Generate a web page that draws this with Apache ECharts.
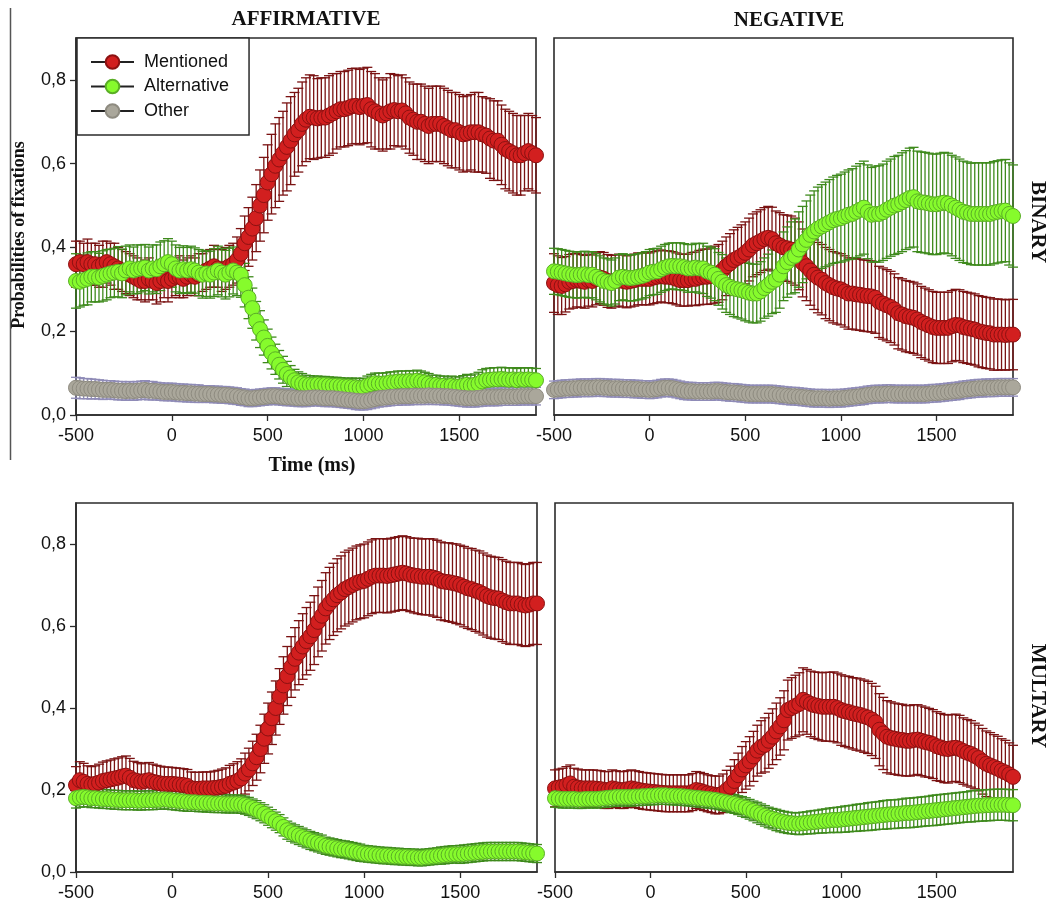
<!DOCTYPE html>
<html><head><meta charset="utf-8">
<script src="https://cdn.jsdelivr.net/npm/echarts@6/dist/echarts.min.js"></script>
<style>html,body{margin:0;padding:0;background:#fff}#c{width:1051px;height:912px}</style>
</head><body><div id="c"></div>
<script>
// ---- sampling grid (ms) ----
const TIME_START = -500, TIME_STEP = 20, N_POINTS = 121;
const SERIES_NAMES = ['Mentioned', 'Alternative', 'Other'];
const X_TICKS = [-500, 0, 500, 1000, 1500];
const Y_TICKS = [0, 0.2, 0.4, 0.6, 0.8];
const COL_TITLES = ['AFFIRMATIVE', 'NEGATIVE'];
const ROW_TITLES = ['BINARY', 'MULTARY'];
const Y_TITLE = 'Probabilities of fixations';
const X_TITLE = 'Time (ms)';

// ---- BINARY / AFFIRMATIVE ----
const binAffMentioned = [
0.36,0.365,0.36,0.365,0.36,
0.36,0.355,0.36,0.365,0.36,
0.355,0.35,0.345,0.34,0.335,
0.33,0.325,0.32,0.32,0.325,
0.32,0.315,0.32,0.325,0.32,
0.325,0.33,0.33,0.325,0.33,
0.335,0.33,0.335,0.34,0.345,
0.35,0.355,0.35,0.345,0.35,
0.355,0.36,0.37,0.385,0.41,
0.425,0.445,0.47,0.5,0.525,
0.555,0.575,0.595,0.61,0.625,
0.64,0.655,0.67,0.68,0.695,
0.705,0.712,0.71,0.708,0.71,
0.71,0.715,0.72,0.725,0.73,
0.73,0.733,0.737,0.738,0.735,
0.738,0.74,0.73,0.725,0.72,
0.715,0.72,0.725,0.728,0.725,
0.727,0.72,0.71,0.705,0.7,
0.7,0.695,0.69,0.695,0.695,
0.695,0.69,0.685,0.68,0.68,
0.675,0.67,0.672,0.675,0.675,
0.675,0.67,0.667,0.66,0.655,
0.655,0.645,0.635,0.63,0.625,
0.62,0.62,0.625,0.63,0.625,
0.62];
const binAffMentionedSE = [
0.055,0.05,0.05,0.055,0.05,
0.05,0.05,0.055,0.05,0.05,
0.055,0.05,0.05,0.05,0.05,
0.05,0.05,0.045,0.05,0.05,
0.045,0.05,0.05,0.045,0.05,
0.045,0.045,0.05,0.045,0.045,
0.045,0.045,0.05,0.045,0.045,
0.045,0.05,0.045,0.05,0.05,
0.05,0.05,0.055,0.06,0.065,
0.07,0.075,0.08,0.085,0.09,
0.09,0.095,0.1,0.1,0.1,
0.105,0.105,0.1,0.1,0.1,
0.1,0.1,0.1,0.095,0.095,
0.095,0.095,0.095,0.09,0.09,
0.09,0.09,0.09,0.09,0.09,
0.09,0.09,0.09,0.09,0.085,
0.085,0.085,0.09,0.085,0.085,
0.085,0.085,0.085,0.085,0.09,
0.09,0.09,0.09,0.09,0.09,
0.09,0.09,0.09,0.09,0.09,
0.09,0.09,0.09,0.09,0.095,
0.095,0.09,0.09,0.095,0.095,
0.095,0.095,0.095,0.095,0.095,
0.095,0.095,0.09,0.09,0.09,
0.09];
const binAffAlternative = [
0.32,0.318,0.322,0.325,0.33,
0.33,0.328,0.332,0.335,0.338,
0.34,0.342,0.338,0.345,0.35,
0.345,0.348,0.35,0.352,0.345,
0.35,0.348,0.355,0.36,0.365,
0.36,0.35,0.345,0.348,0.345,
0.348,0.345,0.34,0.335,0.338,
0.335,0.34,0.345,0.34,0.335,
0.34,0.345,0.34,0.335,0.31,
0.28,0.255,0.225,0.205,0.185,
0.165,0.148,0.133,0.12,0.108,
0.098,0.09,0.083,0.078,0.075,
0.073,0.072,0.072,0.073,0.072,
0.072,0.071,0.07,0.07,0.069,
0.068,0.068,0.067,0.066,0.065,
0.066,0.07,0.073,0.076,0.075,
0.075,0.076,0.078,0.078,0.08,
0.08,0.08,0.081,0.08,0.082,
0.08,0.078,0.075,0.072,0.072,
0.07,0.07,0.068,0.07,0.068,
0.068,0.07,0.072,0.07,0.072,
0.075,0.08,0.083,0.084,0.085,
0.085,0.086,0.085,0.084,0.085,
0.083,0.085,0.084,0.085,0.084,
0.083];
const binAffAlternativeSE = [
0.065,0.06,0.06,0.062,0.06,
0.06,0.058,0.06,0.06,0.058,
0.058,0.06,0.058,0.058,0.056,
0.056,0.058,0.056,0.055,0.056,
0.056,0.058,0.058,0.056,0.056,
0.055,0.056,0.055,0.056,0.055,
0.055,0.054,0.055,0.056,0.055,
0.056,0.057,0.058,0.058,0.058,
0.058,0.056,0.055,0.054,0.052,
0.05,0.048,0.046,0.044,0.042,
0.04,0.038,0.036,0.034,0.032,
0.03,0.028,0.026,0.025,0.024,
0.022,0.022,0.021,0.02,0.02,
0.02,0.02,0.02,0.02,0.02,
0.02,0.02,0.021,0.022,0.022,
0.022,0.023,0.024,0.024,0.025,
0.025,0.025,0.025,0.025,0.025,
0.025,0.025,0.025,0.025,0.025,
0.025,0.024,0.024,0.023,0.023,
0.023,0.023,0.023,0.023,0.023,
0.023,0.024,0.025,0.025,0.026,
0.027,0.028,0.028,0.028,0.028,
0.028,0.028,0.028,0.028,0.028,
0.028,0.028,0.028,0.028,0.028,
0.028];
const binAffOther = [
0.065,0.064,0.063,0.063,0.062,
0.062,0.061,0.06,0.06,0.06,
0.059,0.058,0.058,0.057,0.058,
0.057,0.058,0.059,0.06,0.058,
0.058,0.057,0.056,0.055,0.055,
0.055,0.054,0.053,0.053,0.052,
0.052,0.051,0.051,0.05,0.05,
0.05,0.049,0.049,0.048,0.048,
0.047,0.046,0.045,0.043,0.042,
0.04,0.04,0.041,0.042,0.043,
0.044,0.045,0.045,0.044,0.043,
0.042,0.042,0.041,0.04,0.04,
0.04,0.041,0.042,0.042,0.041,
0.04,0.04,0.04,0.039,0.038,
0.037,0.036,0.035,0.034,0.033,
0.033,0.034,0.036,0.038,0.04,
0.041,0.042,0.043,0.044,0.044,
0.045,0.045,0.045,0.046,0.046,
0.046,0.046,0.047,0.046,0.046,
0.046,0.045,0.045,0.044,0.043,
0.042,0.041,0.04,0.04,0.04,
0.041,0.042,0.043,0.043,0.043,
0.043,0.044,0.044,0.044,0.044,
0.044,0.045,0.045,0.045,0.045,
0.045];
const binAffOtherSE = [
0.025,0.025,0.024,0.024,0.024,
0.023,0.023,0.023,0.022,0.022,
0.022,0.022,0.022,0.022,0.022,
0.022,0.022,0.022,0.022,0.022,
0.022,0.021,0.021,0.021,0.021,
0.021,0.021,0.021,0.021,0.021,
0.021,0.021,0.021,0.02,0.02,
0.02,0.02,0.02,0.02,0.02,
0.02,0.02,0.02,0.02,0.02,
0.02,0.02,0.02,0.02,0.02,
0.02,0.02,0.02,0.02,0.02,
0.02,0.02,0.02,0.02,0.02,
0.02,0.02,0.02,0.02,0.02,
0.02,0.02,0.02,0.02,0.02,
0.02,0.02,0.02,0.021,0.021,
0.021,0.021,0.021,0.021,0.021,
0.021,0.021,0.021,0.021,0.021,
0.021,0.021,0.021,0.021,0.021,
0.021,0.021,0.021,0.021,0.021,
0.021,0.021,0.021,0.021,0.021,
0.021,0.021,0.021,0.021,0.021,
0.021,0.021,0.021,0.021,0.021,
0.021,0.021,0.021,0.021,0.021,
0.021,0.021,0.021,0.021,0.021,
0.021];

// ---- BINARY / NEGATIVE ----
const binNegMentioned = [
0.315,0.31,0.308,0.312,0.318,
0.32,0.322,0.32,0.318,0.322,
0.32,0.325,0.328,0.325,0.32,
0.318,0.32,0.322,0.32,0.318,
0.32,0.322,0.325,0.325,0.325,
0.325,0.328,0.33,0.332,0.33,
0.33,0.328,0.325,0.322,0.322,
0.322,0.325,0.325,0.328,0.33,
0.33,0.332,0.335,0.338,0.345,
0.355,0.362,0.37,0.375,0.38,
0.387,0.395,0.405,0.41,0.415,
0.42,0.423,0.42,0.41,0.405,
0.4,0.398,0.395,0.39,0.38,
0.363,0.355,0.345,0.335,0.328,
0.323,0.315,0.31,0.305,0.302,
0.3,0.295,0.29,0.29,0.288,
0.287,0.285,0.284,0.283,0.28,
0.27,0.266,0.262,0.258,0.252,
0.243,0.24,0.236,0.234,0.232,
0.228,0.222,0.218,0.214,0.21,
0.208,0.208,0.208,0.208,0.212,
0.215,0.214,0.21,0.208,0.206,
0.204,0.2,0.198,0.196,0.195,
0.192,0.192,0.192,0.191,0.192,
0.192];
const binNegMentionedSE = [
0.07,0.07,0.068,0.066,0.065,
0.065,0.064,0.063,0.063,0.062,
0.062,0.062,0.062,0.063,0.063,
0.063,0.062,0.062,0.062,0.062,
0.062,0.062,0.062,0.062,0.062,
0.062,0.062,0.062,0.062,0.062,
0.062,0.062,0.062,0.062,0.062,
0.062,0.063,0.064,0.065,0.066,
0.066,0.067,0.068,0.069,0.07,
0.07,0.071,0.072,0.073,0.074,
0.074,0.075,0.075,0.075,0.075,
0.075,0.075,0.076,0.077,0.078,
0.078,0.079,0.08,0.08,0.081,
0.081,0.082,0.083,0.083,0.084,
0.084,0.085,0.085,0.085,0.085,
0.085,0.085,0.085,0.085,0.085,
0.085,0.085,0.085,0.085,0.085,
0.085,0.085,0.085,0.085,0.085,
0.085,0.085,0.085,0.085,0.085,
0.085,0.085,0.085,0.085,0.085,
0.085,0.085,0.085,0.085,0.085,
0.085,0.085,0.085,0.085,0.085,
0.085,0.085,0.085,0.085,0.085,
0.085,0.085,0.084,0.084,0.084,
0.084];
const binNegAlternative = [
0.343,0.342,0.34,0.338,0.336,
0.335,0.334,0.335,0.336,0.334,
0.335,0.33,0.325,0.32,0.318,
0.315,0.32,0.328,0.33,0.328,
0.327,0.328,0.33,0.332,0.335,
0.34,0.342,0.343,0.348,0.352,
0.355,0.356,0.355,0.355,0.353,
0.35,0.35,0.352,0.35,0.35,
0.343,0.34,0.335,0.325,0.318,
0.31,0.306,0.302,0.3,0.298,
0.295,0.292,0.29,0.29,0.295,
0.303,0.31,0.318,0.323,0.335,
0.355,0.365,0.375,0.38,0.395,
0.407,0.418,0.43,0.438,0.445,
0.45,0.455,0.46,0.465,0.468,
0.47,0.474,0.478,0.48,0.485,
0.49,0.495,0.485,0.478,0.48,
0.48,0.484,0.49,0.495,0.5,
0.503,0.508,0.513,0.518,0.52,
0.51,0.508,0.507,0.505,0.503,
0.503,0.505,0.507,0.505,0.5,
0.495,0.49,0.485,0.483,0.48,
0.48,0.48,0.48,0.48,0.48,
0.483,0.485,0.487,0.488,0.48,
0.475];
const binNegAlternativeSE = [
0.055,0.055,0.055,0.055,0.055,
0.055,0.055,0.055,0.055,0.055,
0.055,0.055,0.055,0.055,0.055,
0.055,0.055,0.055,0.055,0.055,
0.055,0.055,0.055,0.055,0.055,
0.055,0.055,0.055,0.055,0.055,
0.055,0.055,0.056,0.056,0.056,
0.057,0.057,0.058,0.059,0.06,
0.06,0.061,0.062,0.063,0.065,
0.065,0.066,0.067,0.068,0.069,
0.07,0.07,0.07,0.07,0.071,
0.072,0.074,0.076,0.078,0.08,
0.082,0.084,0.086,0.088,0.09,
0.091,0.093,0.095,0.097,0.099,
0.1,0.101,0.102,0.103,0.104,
0.105,0.106,0.107,0.108,0.109,
0.11,0.111,0.112,0.113,0.114,
0.115,0.115,0.116,0.116,0.117,
0.117,0.118,0.118,0.119,0.119,
0.12,0.12,0.12,0.12,0.12,
0.12,0.12,0.12,0.12,0.12,
0.121,0.121,0.121,0.121,0.121,
0.122,0.122,0.122,0.122,0.122,
0.122,0.122,0.122,0.122,0.122,
0.122];
const binNegOther = [
0.06,0.061,0.062,0.063,0.063,
0.064,0.064,0.065,0.065,0.065,
0.065,0.066,0.066,0.065,0.065,
0.064,0.064,0.064,0.063,0.063,
0.063,0.062,0.062,0.061,0.061,
0.06,0.061,0.062,0.064,0.065,
0.065,0.064,0.062,0.06,0.058,
0.057,0.057,0.056,0.056,0.056,
0.056,0.056,0.057,0.057,0.056,
0.055,0.054,0.054,0.053,0.052,
0.051,0.05,0.05,0.05,0.05,
0.05,0.05,0.05,0.049,0.048,
0.047,0.046,0.045,0.045,0.044,
0.043,0.042,0.041,0.04,0.04,
0.04,0.04,0.039,0.04,0.04,
0.04,0.041,0.042,0.043,0.044,
0.045,0.046,0.048,0.049,0.05,
0.05,0.05,0.051,0.051,0.05,
0.05,0.05,0.05,0.05,0.05,
0.05,0.05,0.05,0.051,0.052,
0.052,0.053,0.054,0.055,0.056,
0.057,0.058,0.06,0.061,0.062,
0.063,0.064,0.064,0.065,0.065,
0.065,0.066,0.066,0.066,0.066,
0.066];
const binNegOtherSE = [
0.021,0.021,0.021,0.021,0.021,
0.021,0.021,0.021,0.021,0.021,
0.021,0.021,0.021,0.021,0.021,
0.021,0.021,0.021,0.021,0.021,
0.021,0.021,0.021,0.021,0.021,
0.021,0.021,0.021,0.021,0.021,
0.021,0.021,0.021,0.021,0.021,
0.021,0.021,0.021,0.021,0.021,
0.021,0.021,0.021,0.021,0.021,
0.021,0.021,0.021,0.021,0.021,
0.021,0.021,0.021,0.021,0.021,
0.021,0.021,0.021,0.021,0.021,
0.021,0.021,0.021,0.021,0.021,
0.021,0.021,0.021,0.021,0.021,
0.021,0.021,0.021,0.021,0.021,
0.021,0.021,0.021,0.021,0.021,
0.021,0.021,0.021,0.021,0.021,
0.021,0.021,0.021,0.021,0.021,
0.021,0.021,0.021,0.021,0.021,
0.021,0.021,0.021,0.021,0.021,
0.021,0.021,0.021,0.021,0.021,
0.021,0.021,0.021,0.021,0.021,
0.021,0.021,0.021,0.021,0.021,
0.021,0.021,0.021,0.021,0.021,
0.021];

// ---- MULTARY / AFFIRMATIVE ----
const mulAffMentioned = [
0.212,0.224,0.22,0.215,0.213,
0.215,0.218,0.222,0.224,0.226,
0.228,0.23,0.233,0.235,0.23,
0.224,0.222,0.22,0.222,0.224,
0.22,0.218,0.216,0.215,0.215,
0.215,0.214,0.213,0.212,0.21,
0.204,0.203,0.203,0.204,0.204,
0.204,0.205,0.206,0.208,0.21,
0.215,0.218,0.222,0.228,0.24,
0.25,0.265,0.28,0.3,0.325,
0.35,0.375,0.4,0.428,0.455,
0.478,0.5,0.52,0.535,0.55,
0.563,0.575,0.59,0.61,0.625,
0.643,0.655,0.665,0.675,0.682,
0.69,0.695,0.7,0.705,0.708,
0.71,0.715,0.72,0.723,0.723,
0.723,0.722,0.724,0.726,0.728,
0.73,0.728,0.725,0.723,0.722,
0.72,0.72,0.72,0.718,0.715,
0.71,0.708,0.707,0.705,0.703,
0.7,0.696,0.692,0.69,0.686,
0.683,0.678,0.673,0.67,0.668,
0.667,0.662,0.658,0.655,0.655,
0.655,0.652,0.65,0.652,0.655,
0.655];
const mulAffMentionedSE = [
0.045,0.045,0.045,0.044,0.044,
0.044,0.045,0.046,0.047,0.047,
0.048,0.048,0.048,0.048,0.047,
0.046,0.045,0.044,0.044,0.043,
0.043,0.042,0.042,0.041,0.041,
0.04,0.04,0.04,0.04,0.04,
0.04,0.04,0.04,0.04,0.04,
0.04,0.041,0.042,0.043,0.044,
0.045,0.046,0.047,0.048,0.05,
0.052,0.054,0.056,0.058,0.06,
0.062,0.064,0.066,0.068,0.07,
0.072,0.074,0.076,0.078,0.08,
0.082,0.083,0.084,0.085,0.086,
0.087,0.088,0.088,0.089,0.089,
0.09,0.09,0.09,0.09,0.09,
0.09,0.09,0.09,0.09,0.09,
0.09,0.09,0.09,0.09,0.09,
0.09,0.09,0.09,0.091,0.092,
0.092,0.093,0.093,0.094,0.094,
0.095,0.095,0.096,0.096,0.097,
0.097,0.098,0.098,0.099,0.099,
0.1,0.1,0.1,0.1,0.1,
0.1,0.1,0.1,0.1,0.1,
0.1,0.1,0.1,0.1,0.1,
0.1];
const mulAffAlternative = [
0.18,0.182,0.183,0.182,0.18,
0.18,0.179,0.178,0.178,0.177,
0.176,0.176,0.175,0.175,0.175,
0.175,0.174,0.174,0.175,0.175,
0.175,0.176,0.176,0.177,0.176,
0.175,0.174,0.173,0.172,0.171,
0.17,0.17,0.169,0.169,0.168,
0.168,0.167,0.167,0.167,0.166,
0.166,0.166,0.166,0.165,0.163,
0.16,0.156,0.152,0.147,0.142,
0.136,0.13,0.124,0.118,0.11,
0.102,0.097,0.093,0.089,0.085,
0.081,0.077,0.074,0.071,0.068,
0.064,0.062,0.06,0.058,0.056,
0.055,0.053,0.051,0.049,0.047,
0.045,0.044,0.043,0.042,0.041,
0.04,0.04,0.039,0.038,0.038,
0.037,0.037,0.036,0.036,0.035,
0.035,0.036,0.037,0.038,0.039,
0.04,0.041,0.042,0.043,0.043,
0.043,0.044,0.045,0.046,0.047,
0.048,0.049,0.05,0.05,0.05,
0.05,0.05,0.05,0.05,0.05,
0.05,0.049,0.048,0.047,0.046,
0.045];
const mulAffAlternativeSE = [
0.024,0.024,0.024,0.023,0.023,
0.023,0.023,0.023,0.023,0.023,
0.023,0.023,0.023,0.023,0.023,
0.023,0.023,0.023,0.023,0.023,
0.023,0.023,0.023,0.023,0.023,
0.023,0.023,0.023,0.023,0.023,
0.022,0.022,0.022,0.022,0.022,
0.022,0.022,0.022,0.022,0.022,
0.022,0.022,0.022,0.022,0.022,
0.022,0.022,0.022,0.022,0.022,
0.022,0.022,0.022,0.022,0.022,
0.022,0.022,0.022,0.022,0.022,
0.022,0.022,0.022,0.022,0.022,
0.021,0.021,0.021,0.021,0.021,
0.021,0.021,0.021,0.021,0.021,
0.02,0.02,0.02,0.02,0.02,
0.02,0.02,0.02,0.02,0.02,
0.02,0.02,0.02,0.02,0.02,
0.02,0.02,0.02,0.02,0.02,
0.021,0.021,0.021,0.021,0.021,
0.022,0.022,0.022,0.022,0.022,
0.022,0.022,0.022,0.022,0.022,
0.022,0.022,0.022,0.022,0.022,
0.022,0.022,0.022,0.022,0.022,
0.022];

// ---- MULTARY / NEGATIVE ----
const mulNegMentioned = [
0.204,0.206,0.208,0.212,0.216,
0.208,0.206,0.204,0.204,0.204,
0.204,0.203,0.202,0.2,0.2,
0.204,0.202,0.2,0.2,0.202,
0.204,0.202,0.2,0.198,0.197,
0.196,0.195,0.194,0.193,0.192,
0.192,0.192,0.192,0.192,0.192,
0.192,0.195,0.2,0.198,0.195,
0.192,0.19,0.188,0.188,0.192,
0.2,0.208,0.222,0.236,0.25,
0.26,0.27,0.282,0.296,0.305,
0.31,0.32,0.33,0.343,0.355,
0.37,0.395,0.4,0.405,0.41,
0.42,0.415,0.41,0.407,0.405,
0.403,0.403,0.403,0.403,0.4,
0.395,0.392,0.39,0.387,0.385,
0.383,0.38,0.377,0.372,0.365,
0.347,0.338,0.33,0.327,0.325,
0.323,0.322,0.32,0.32,0.322,
0.323,0.32,0.317,0.315,0.312,
0.307,0.304,0.301,0.3,0.302,
0.303,0.3,0.295,0.291,0.288,
0.283,0.278,0.27,0.264,0.26,
0.256,0.252,0.247,0.243,0.238,
0.232];
const mulNegMentionedSE = [
0.045,0.045,0.045,0.045,0.045,
0.045,0.045,0.045,0.045,0.045,
0.045,0.045,0.045,0.045,0.045,
0.045,0.045,0.045,0.045,0.045,
0.045,0.045,0.045,0.045,0.045,
0.045,0.045,0.045,0.045,0.045,
0.045,0.045,0.045,0.045,0.045,
0.045,0.045,0.045,0.045,0.045,
0.045,0.045,0.046,0.046,0.047,
0.048,0.05,0.052,0.054,0.056,
0.058,0.06,0.061,0.062,0.064,
0.066,0.067,0.068,0.069,0.07,
0.072,0.073,0.074,0.075,0.076,
0.078,0.079,0.08,0.081,0.082,
0.083,0.084,0.084,0.085,0.085,
0.086,0.086,0.087,0.087,0.088,
0.088,0.088,0.088,0.088,0.088,
0.088,0.088,0.088,0.088,0.087,
0.087,0.087,0.086,0.086,0.086,
0.085,0.085,0.085,0.084,0.084,
0.084,0.083,0.083,0.083,0.082,
0.082,0.082,0.081,0.081,0.081,
0.08,0.08,0.08,0.08,0.08,
0.079,0.079,0.078,0.078,0.077,
0.077];
const mulNegAlternative = [
0.18,0.179,0.178,0.178,0.178,
0.178,0.177,0.177,0.178,0.178,
0.178,0.178,0.179,0.18,0.181,
0.182,0.183,0.183,0.183,0.183,
0.183,0.184,0.184,0.185,0.185,
0.186,0.186,0.187,0.187,0.187,
0.186,0.186,0.185,0.185,0.184,
0.183,0.182,0.181,0.18,0.179,
0.178,0.177,0.176,0.174,0.172,
0.17,0.168,0.166,0.163,0.16,
0.157,0.153,0.149,0.145,0.141,
0.137,0.133,0.13,0.127,0.124,
0.122,0.12,0.119,0.118,0.118,
0.119,0.12,0.121,0.122,0.123,
0.124,0.125,0.126,0.127,0.127,
0.128,0.129,0.13,0.131,0.132,
0.133,0.134,0.135,0.136,0.137,
0.138,0.139,0.14,0.141,0.141,
0.142,0.143,0.144,0.144,0.145,
0.146,0.147,0.148,0.149,0.15,
0.151,0.152,0.153,0.154,0.155,
0.156,0.157,0.158,0.159,0.16,
0.161,0.162,0.162,0.163,0.163,
0.164,0.164,0.164,0.164,0.163,
0.163];
const mulNegAlternativeSE = [
0.022,0.022,0.022,0.022,0.022,
0.022,0.022,0.022,0.022,0.022,
0.022,0.022,0.022,0.022,0.022,
0.022,0.022,0.022,0.022,0.022,
0.022,0.022,0.022,0.022,0.022,
0.022,0.022,0.022,0.022,0.022,
0.022,0.022,0.022,0.022,0.022,
0.022,0.022,0.022,0.022,0.022,
0.022,0.022,0.022,0.022,0.022,
0.022,0.023,0.023,0.023,0.024,
0.024,0.024,0.024,0.025,0.025,
0.025,0.025,0.025,0.026,0.026,
0.026,0.026,0.026,0.026,0.027,
0.027,0.027,0.028,0.028,0.028,
0.029,0.029,0.03,0.03,0.031,
0.031,0.032,0.032,0.032,0.033,
0.033,0.033,0.034,0.034,0.034,
0.034,0.035,0.035,0.035,0.035,
0.035,0.035,0.036,0.036,0.036,
0.036,0.036,0.036,0.036,0.037,
0.037,0.037,0.037,0.037,0.037,
0.037,0.037,0.037,0.037,0.038,
0.038,0.038,0.038,0.038,0.038,
0.038,0.038,0.038,0.038,0.038,
0.038];

// ---- layout / styles ----
const PANELS = [
  { grid: { left: 76, top: 38, width: 460, height: 377 }, yLabels: true,
    sets: [[binAffMentioned, binAffMentionedSE], [binAffAlternative, binAffAlternativeSE], [binAffOther, binAffOtherSE]] },
  { grid: { left: 554, top: 38, width: 459, height: 377 }, yLabels: false,
    sets: [[binNegMentioned, binNegMentionedSE], [binNegAlternative, binNegAlternativeSE], [binNegOther, binNegOtherSE]] },
  { grid: { left: 76, top: 503, width: 461, height: 369 }, yLabels: true,
    sets: [[mulAffMentioned, mulAffMentionedSE], [mulAffAlternative, mulAffAlternativeSE]] },
  { grid: { left: 555, top: 503, width: 458, height: 369 }, yLabels: false,
    sets: [[mulNegMentioned, mulNegMentionedSE], [mulNegAlternative, mulNegAlternativeSE]] }
];
const STYLES = [
  { fill: '#d21f1f', border: '#8c1111', err: '#7a1212' },
  { fill: '#86fb2c', border: '#5aae26', err: '#3e8a1c' },
  { fill: '#aaa79b', border: '#8e8b80', err: '#8f8bb7' }
];

const SANS = '"Liberation Sans", Arial, sans-serif';
const SERIF = '"Liberation Serif", "Times New Roman", serif';
const times = [];
for (let i = 0; i < N_POINTS; i++) times.push(TIME_START + i * TIME_STEP);

function errRenderer(color) {
  return function (params, api) {
    const t = api.value(0), lo = api.value(1), hi = api.value(2);
    const a = api.coord([t, hi]), b = api.coord([t, lo]);
    const cw = 5;
    const st = { stroke: color, lineWidth: 1.3 };
    return { type: 'group', children: [
      { type: 'line', shape: { x1: a[0], y1: a[1], x2: b[0], y2: b[1] }, style: st },
      { type: 'line', shape: { x1: a[0] - cw, y1: a[1], x2: a[0] + cw, y2: a[1] }, style: st },
      { type: 'line', shape: { x1: b[0] - cw, y1: b[1], x2: b[0] + cw, y2: b[1] }, style: st }
    ] };
  };
}

const grids = [], xAxes = [], yAxes = [], series = [];
PANELS.forEach((p, pi) => {
  grids.push(Object.assign({ show: true, borderColor: '#2b2b2b', borderWidth: 1.6, backgroundColor: 'transparent' }, p.grid));
  xAxes.push({
    type: 'value', gridIndex: pi, min: TIME_START, max: times[times.length - 1],
    splitLine: { show: false },
    axisLine: { show: true, onZero: false, lineStyle: { color: '#2b2b2b', width: 1.6 } },
    axisTick: { show: true, inside: false, length: 6, customValues: X_TICKS, lineStyle: { color: '#2b2b2b', width: 1.3 } },
    axisLabel: { show: true, customValues: X_TICKS, margin: 12, fontFamily: SANS, fontSize: 18, color: '#111',
      formatter: v => String(v) }
  });
  yAxes.push({
    type: 'value', gridIndex: pi, min: 0, max: 0.9,
    splitLine: { show: false },
    axisLine: { show: p.yLabels, onZero: false, lineStyle: { color: '#2b2b2b', width: 1.6 } },
    axisTick: { show: p.yLabels, inside: false, length: 6, customValues: Y_TICKS, lineStyle: { color: '#2b2b2b', width: 1.3 } },
    axisLabel: { show: p.yLabels, customValues: Y_TICKS, margin: 10, fontFamily: SANS, fontSize: 18, color: '#111',
      formatter: v => v.toFixed(1).replace('.', ',') }
  });
  p.sets.forEach((set, si) => {
    const mean = set[0], se = set[1], sty = STYLES[si];
    series.push({
      type: 'custom', name: SERIES_NAMES[si] + ' SE', xAxisIndex: pi, yAxisIndex: pi,
      renderItem: errRenderer(sty.err), encode: { x: 0, y: [1, 2] }, silent: true,
      data: times.map((t, i) => [t, mean[i] - se[i], mean[i] + se[i]])
    });
    series.push({
      type: 'line', name: SERIES_NAMES[si], xAxisIndex: pi, yAxisIndex: pi,
      symbol: 'circle', symbolSize: 15, showSymbol: true, silent: true,
      lineStyle: { color: '#222', width: 1 },
      itemStyle: { color: sty.fill, borderColor: sty.border, borderWidth: 1 },
      emphasis: { disabled: true },
      data: times.map((t, i) => [t, mean[i]])
    });
  });
});

const txt = (text, x, y, size, rot, font) => ({
  type: 'text', x: x, y: y, rotation: rot || 0, silent: true,
  style: { text: text, fontFamily: font || SERIF, fontWeight: 'bold', fontSize: size, fill: '#111', align: 'center', verticalAlign: 'middle' }
});

const option = {
  animation: false,
  backgroundColor: '#fff',
  grid: grids, xAxis: xAxes, yAxis: yAxes, series: series,
  legend: {
    data: SERIES_NAMES, left: 77, top: 38, orient: 'vertical', selectedMode: false,
    itemWidth: 43, itemHeight: 17, itemGap: 6.5, padding: [15, 20, 15, 13],
    backgroundColor: '#fff', borderColor: '#2b2b2b', borderWidth: 1.5, borderRadius: 0,
    textStyle: { fontFamily: SANS, fontSize: 18, color: '#111', padding: [0, 0, 0, 5] }
  },
  graphic: [
    txt(COL_TITLES[0], 306, 20, 21),
    txt(COL_TITLES[1], 789, 21, 21),
    txt(ROW_TITLES[0], 1037, 222, 21, -Math.PI / 2),
    txt(ROW_TITLES[1], 1037, 696, 21, -Math.PI / 2),
    txt(Y_TITLE, 19, 235, 18, Math.PI / 2),
    txt(X_TITLE, 312, 466, 20),
    { type: 'line', silent: true, shape: { x1: 10.5, y1: 8, x2: 10.5, y2: 460 }, style: { stroke: '#555', lineWidth: 1.5 } }
  ]
};

echarts.init(document.getElementById('c'), null, { renderer: 'canvas' }).setOption(option);
</script>
</body></html>
